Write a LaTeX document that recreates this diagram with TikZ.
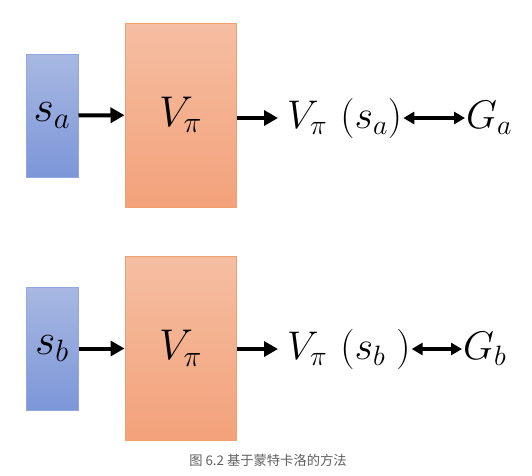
\RequirePackage{fix-cm}
\documentclass[tikz,border=0pt]{standalone}
\usepackage{fontspec}
\newfontfamily\cjk{Noto Sans CJK SC}
\usetikzlibrary{arrows.meta}
\definecolor{blueTop}{RGB}{168,184,226}
\definecolor{blueBot}{RGB}{124,150,216}
\definecolor{blueEdge}{RGB}{143,168,222}
\definecolor{orTop}{RGB}{245,190,162}
\definecolor{orBot}{RGB}{243,162,122}
\definecolor{orEdge}{RGB}{240,160,110}
\definecolor{capgray}{RGB}{95,95,95}
\tikzset{
  statebox/.style={draw=blueEdge, line width=1pt, top color=blueTop, bottom color=blueBot,
    minimum width=52pt, minimum height=123pt, inner sep=0pt,
    font=\fontsize{44}{48}\selectfont},
  valbox/.style={draw=orEdge, line width=1pt, top color=orTop, bottom color=orBot,
    minimum width=111pt, minimum height=184pt, inner sep=0pt,
    font=\fontsize{43}{46}\selectfont},
  mathtext/.style={inner sep=1pt, font=\fontsize{40}{44}\selectfont},
  fwd/.style={line width=4pt, -{Triangle[length=14pt,width=15pt]}},
  both/.style={line width=3.2pt, {Triangle[length=11pt,width=12pt]}-{Triangle[length=11pt,width=12pt]}},
}
\begin{document}
\begin{tikzpicture}[x=1pt,y=-1pt]
\useasboundingbox (0,0) rectangle (532,475);
% top row
\node[statebox] (sa) at (52,115.5) {$s_a$};
\node[valbox] (va) at (180.5,115) {$V_\pi$};
\node[mathtext, anchor=west] (ta) at (286,118) {$V_\pi\,\,(s_a)$};
\node[mathtext, anchor=west] (ga) at (465,118) {$G_a$};
\draw[fwd, shorten >=8pt] (va.east |- ta.west) -- (ta.west);
\draw[fwd] (sa) -- (va);
\draw[both] (ta.east) -- (ga.west);
% bottom row
\node[statebox] (sb) at (52,348.5) {$s_b$};
\node[valbox] (vb) at (180.5,348.5) {$V_\pi$};
\node[mathtext, anchor=west] (tb) at (286,349) {$V_\pi\,\,(s_b\;)$};
\node[mathtext, anchor=west] (gb) at (462,349) {$G_b$};
\draw[fwd] (sb) -- (vb);
\draw[fwd, shorten >=8pt] (vb.east |- tb.west) -- (tb.west);
\draw[both] (tb.east) -- (gb.west);
% caption
\node[text=capgray, font=\cjk\fontsize{13.3}{15}\selectfont] (cap) at (268,460) {图 6.2 基于蒙特卡洛的方法};
\end{tikzpicture}
\end{document}
